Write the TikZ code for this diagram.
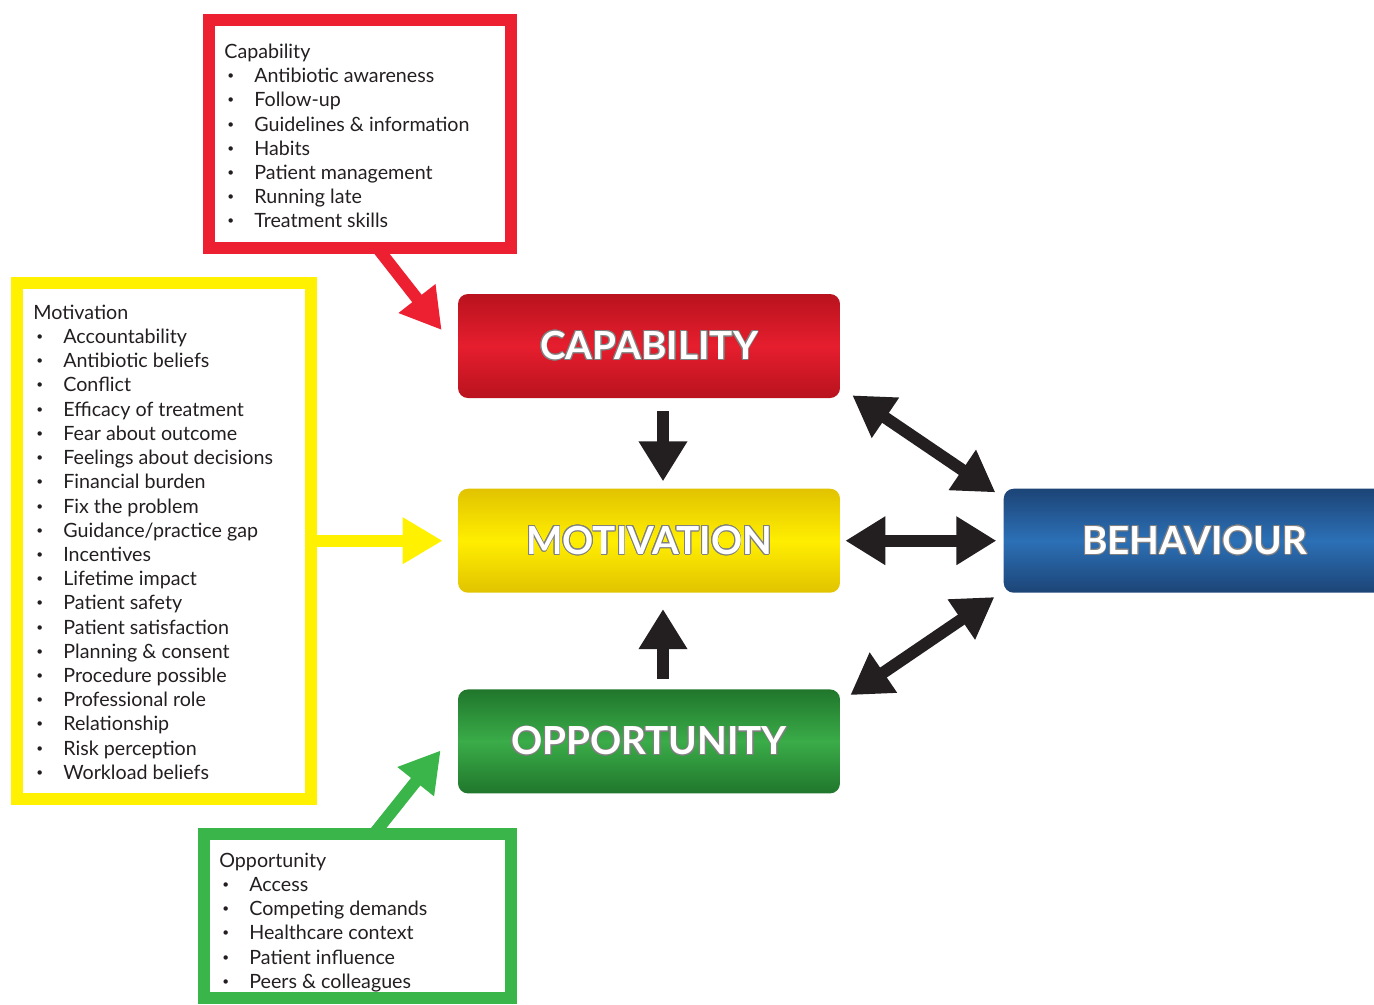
\documentclass[tikz,border=0pt]{standalone}
\usepackage{fontspec}
\setmainfont{Lato}
\usepackage{graphicx}
\usepackage{contour}
\usetikzlibrary{positioning,arrows.meta,calc}

\definecolor{capRed}{RGB}{237,32,50}
\definecolor{motYellow}{RGB}{255,241,0}
\definecolor{oppGreen}{RGB}{58,181,74}
\definecolor{capMid}{RGB}{230,30,46}
\definecolor{capEdge}{RGB}{185,18,30}
\definecolor{motMid}{RGB}{255,238,0}
\definecolor{motEdge}{RGB}{225,195,0}
\definecolor{oppMid}{RGB}{58,172,72}
\definecolor{oppEdge}{RGB}{32,118,44}
\definecolor{behMid}{RGB}{44,112,182}
\definecolor{behEdge}{RGB}{28,68,118}
\definecolor{ink}{RGB}{35,31,32}

\contourlength{0.5pt}
\newcommand{\itm}{\makebox[6mm][l]{\hspace{0.6mm}\raisebox{0.3ex}{\scalebox{0.6}{\textbullet}}}}

\begin{document}
\begin{tikzpicture}[
        x=0.2mm, y=-0.2mm,
        node distance=18mm and 32.6mm,
        hd/.style={rectangle, rounded corners=2mm, minimum width=76.4mm, minimum height=20.8mm, inner sep=0pt, text=white, font=\fontsize{22}{24}\selectfont\bfseries},
        frame/.style={rectangle, draw=#1, line width=2.4mm, inner sep=0pt},
        lst/.style={anchor=north west, inner sep=0pt, align=left, text=ink, font=\fontsize{11.2}{13.78}\selectfont},
        fat/.style={line width=2.4mm, -{Triangle[length=8mm,width=8.8mm]}},
        blk/.style={line width=2.4mm, ink, -{Triangle[length=8mm,width=9.2mm]}},
        dbl/.style={line width=2.4mm, ink, {Triangle[length=8mm,width=9.2mm]}-{Triangle[length=8mm,width=9.2mm]}},
    ]
    \clip (0,0) rectangle (1374,1004);

    % COM-B boxes
    \node[hd, top color=capEdge, bottom color=capEdge, middle color=capMid] (cap) at (649,346) {\contour{gray}{CAPABILITY}};
    \node[hd, top color=motEdge, bottom color=motEdge, middle color=motMid, below=of cap] (mot) {\contour{gray}{MOTIVATION}};
    \node[hd, top color=oppEdge, bottom color=oppEdge, middle color=oppMid, below=19.2mm of mot] (opp) {\contour{gray}{OPPORTUNITY}};
    \node[hd, top color=behEdge, bottom color=behEdge, middle color=behMid, right=of mot] (beh) {\contour{gray}{BEHAVIOUR}};

    % links between components
    \draw[blk] ($(cap.south)+(14,13)$) -- ($(mot.north)+(14,-7)$);
    \draw[blk] ($(opp.north)+(14,-10)$) -- ($(mot.south)+(14,16)$);
    \draw[dbl] ($(cap.south east)+(12,-3)$) -- ($(beh.north west)+(-8,4)$);
    \draw[dbl] ($(mot.east)+(5,0)$) -- ($(beh.west)+(-7,0)$);
    \draw[dbl] ($(opp.north east)+(10,6)$) -- ($(beh.south west)+(-9,4)$);

    % Capability list
    \node[frame=capRed, minimum width=60.4mm, minimum height=45.6mm] (capF) at (360,134) {};
    \node[lst] (capL) at (224,43.5) {Capability\\
        \itm Antibiotic awareness\\
        \itm Follow-up\\
        \itm Guidelines \& information\\
        \itm Habits\\
        \itm Patient management\\
        \itm Running late\\
        \itm Treatment skills};
    \draw[fat, capRed] ($(capF.south)+(19,-4)$) -- ($(cap.west)+(-16,-16)$);

    % Motivation list
    \node[frame=motYellow, minimum width=58.8mm, minimum height=103.2mm] (motF) at (164,541) {};
    \node[lst] (motL) at (33,304.5) {Motivation\\
        \itm Accountability\\
        \itm Antibiotic beliefs\\
        \itm Conflict\\
        \itm Efficacy of treatment\\
        \itm Fear about outcome\\
        \itm Feelings about decisions\\
        \itm Financial burden\\
        \itm Fix the problem\\
        \itm Guidance/practice gap\\
        \itm Incentives\\
        \itm Lifetime impact\\
        \itm Patient safety\\
        \itm Patient satisfaction\\
        \itm Planning \& consent\\
        \itm Procedure possible\\
        \itm Professional role\\
        \itm Relationship\\
        \itm Risk perception\\
        \itm Workload beliefs};
    \draw[fat, motYellow] ($(motF.east |- mot.west)+(-4,0)$) -- ($(mot.west)+(-15,0)$);

    % Opportunity list
    \node[frame=oppGreen, minimum width=61.4mm, minimum height=32.8mm] (oppF) at (357.5,916) {};
    \node[lst] (oppL) at (219,852.5) {Opportunity\\
        \itm Access\\
        \itm Competing demands\\
        \itm Healthcare context\\
        \itm Patient influence\\
        \itm Peers \& colleagues};
    \draw[fat, oppGreen] ($(oppF.north)+(18,4)$) -- ($(opp.west)+(-17,9)$);

\end{tikzpicture}
\end{document}
